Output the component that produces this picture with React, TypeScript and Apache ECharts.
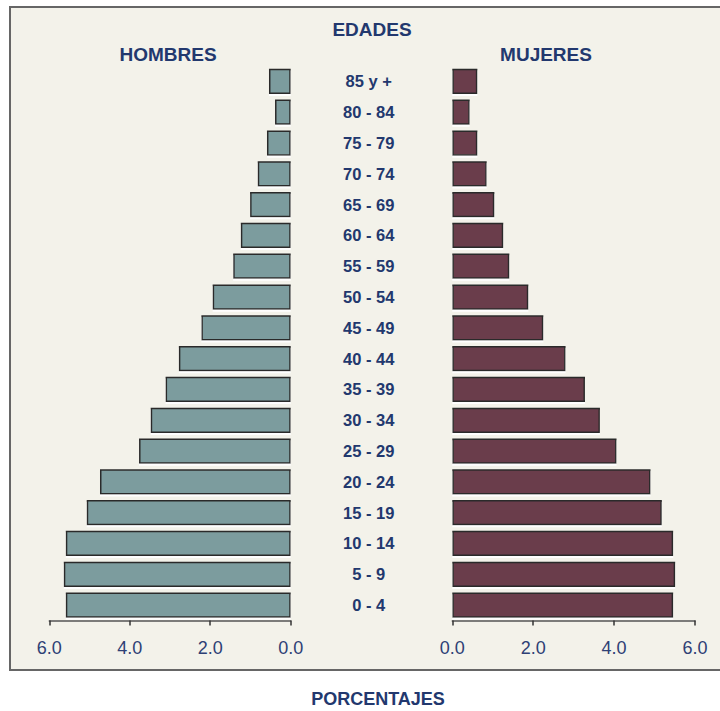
import React, { useEffect, useRef } from "react";
import * as echarts from "echarts";

const ageGroups = [
  "0 - 4", "5 - 9", "10 - 14", "15 - 19", "20 - 24", "25 - 29", "30 - 34", "35 - 39",
  "40 - 44", "45 - 49", "50 - 54", "55 - 59", "60 - 64", "65 - 69", "70 - 74", "75 - 79",
  "80 - 84", "85 y +",
];
const hombres = [5.59, 5.64, 5.59, 5.07, 4.74, 3.77, 3.48, 3.11, 2.78, 2.22, 1.94, 1.43, 1.24, 1.01, 0.82, 0.59, 0.39, 0.54];
const mujeres = [5.46, 5.51, 5.46, 5.18, 4.9, 4.06, 3.65, 3.28, 2.8, 2.25, 1.88, 1.41, 1.26, 1.04, 0.85, 0.62, 0.43, 0.62];
const tickValues = [0, 2, 4, 6];

const TEXT = "#22386e";
const FONT = "'Liberation Sans', Arial, sans-serif";

export default function App() {
  const ref = useRef<HTMLDivElement>(null);
  useEffect(() => {
    if (!ref.current) return;
    const chart = echarts.init(ref.current, undefined, { renderer: "svg" });
    const xAxisCommon = {
      type: "value" as const,
      min: tickValues[0],
      max: tickValues[tickValues.length - 1],
      interval: 2,
      splitLine: { show: false },
      axisLine: { show: true, lineStyle: { color: "#555", width: 1.5 } },
      axisTick: { show: true, length: 5, inside: false, lineStyle: { color: "#333", width: 1.5 } },
      axisLabel: {
        margin: 18,
        fontSize: 18,
        fontWeight: 500,
        color: "#2e4075",
        fontFamily: FONT,
        formatter: (v: number) => v.toFixed(1),
      },
    };
    const barStyle = (fill: string) => ({
      color: fill,
      borderColor: "#2b2b2b",
      borderWidth: 1.5,
      shadowColor: "rgba(255,255,255,0.95)",
      shadowBlur: 0,
      shadowOffsetY: 2,
    });
    chart.setOption({
      animation: false,
      backgroundColor: "#ffffff",
      graphic: [
        {
          type: "rect",
          z: -10,
          shape: { x: 10, y: 7, width: 720, height: 663 },
          style: { fill: "#f3f2ea", stroke: "#666", lineWidth: 2 },
        },
        {
          type: "text",
          x: 372, y: 29,
          style: { text: "EDADES", fill: TEXT, font: `bold 19px ${FONT}`, align: "center", verticalAlign: "middle" },
        },
        {
          type: "text",
          x: 168, y: 54,
          style: { text: "HOMBRES", fill: TEXT, font: `bold 19px ${FONT}`, align: "center", verticalAlign: "middle" },
        },
        {
          type: "text",
          x: 546, y: 54,
          style: { text: "MUJERES", fill: TEXT, font: `bold 19px ${FONT}`, align: "center", verticalAlign: "middle" },
        },
        {
          type: "text",
          x: 378, y: 699,
          style: { text: "PORCENTAJES", fill: TEXT, font: `bold 18px ${FONT}`, align: "center", verticalAlign: "middle" },
        },
      ],
      grid: [
        { left: 49.3, top: 66, width: 241.4, height: 554.5 },
        { left: 452.3, top: 66, width: 242.7, height: 554.5 },
      ],
      xAxis: [
        { ...xAxisCommon, gridIndex: 0, inverse: true },
        { ...xAxisCommon, gridIndex: 1 },
      ],
      yAxis: [
        {
          type: "category",
          gridIndex: 0,
          data: ageGroups,
          position: "right",
          axisLine: { show: false },
          axisTick: { show: false },
          axisLabel: {
            margin: 78,
            align: "center",
            fontSize: 16.5,
            fontWeight: "bold",
            color: TEXT,
            fontFamily: FONT,
          },
        },
        {
          type: "category",
          gridIndex: 1,
          data: ageGroups,
          axisLine: { show: false },
          axisTick: { show: false },
          axisLabel: { show: false },
        },
      ],
      series: [
        {
          type: "bar",
          name: "HOMBRES",
          xAxisIndex: 0,
          yAxisIndex: 0,
          data: hombres,
          barCategoryGap: "18%",
          itemStyle: barStyle("#7c9c9e"),
        },
        {
          type: "bar",
          name: "MUJERES",
          xAxisIndex: 1,
          yAxisIndex: 1,
          data: mujeres,
          barCategoryGap: "18%",
          itemStyle: barStyle("#6a3c4b"),
        },
      ],
    });
    return () => chart.dispose();
  }, []);
  return (
    <div
      ref={ref}
      style={{ position: "fixed", left: 0, top: 0, width: 720, height: 711 }}
    />
  );
}
